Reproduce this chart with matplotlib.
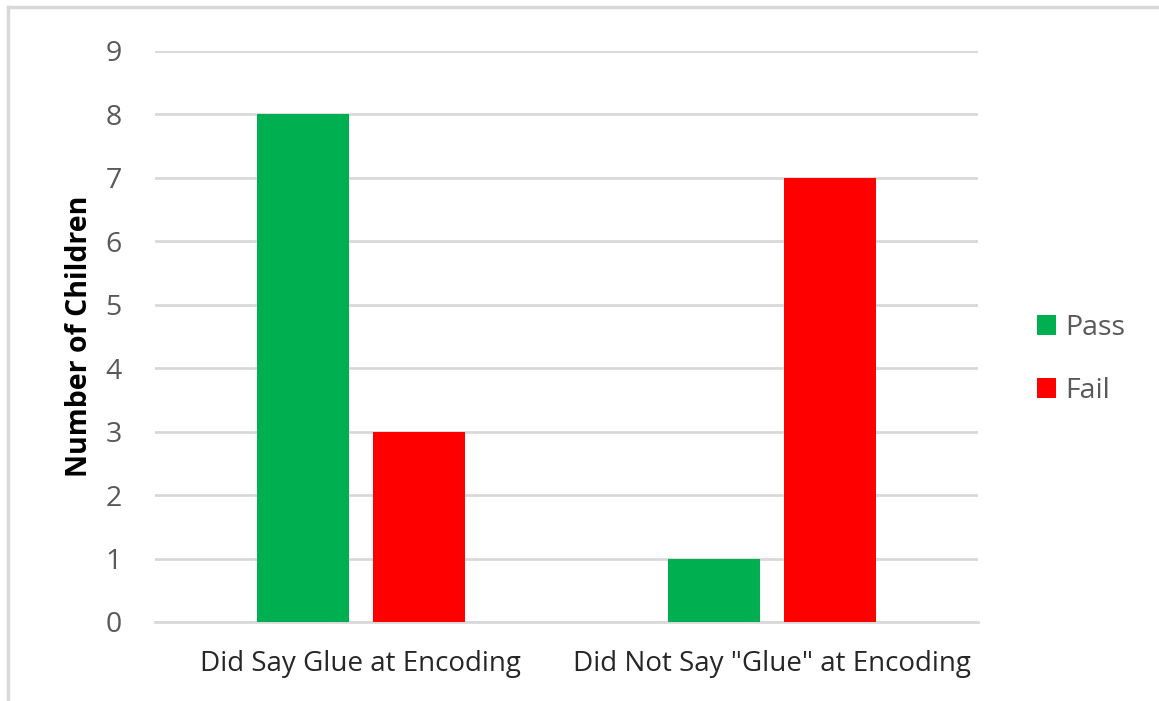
import matplotlib.pyplot as plt
import numpy as np
from matplotlib.lines import Line2D

categories = ["Did Say Glue at Encoding", 'Did Not Say "Glue" at Encoding']
series = ["Pass", "Fail"]
pass_counts = [8, 1]
fail_counts = [3, 7]
colors = {"Pass": "#00B050", "Fail": "#FF0000"}

plt.rcParams["font.family"] = ["Open Sans", "DejaVu Sans"]

fig = plt.figure(figsize=(11.59, 7.01), dpi=100)
ax = fig.add_axes([155 / 1159, 1 - 622 / 701, 823 / 1159, 571 / 701])

x = np.arange(len(categories))
width = 0.2236
offset = 0.1405
ax.bar(x - offset, pass_counts, width, color=colors["Pass"], label="Pass", zorder=3)
ax.bar(x + offset, fail_counts, width, color=colors["Fail"], label="Fail", zorder=3)

ax.set_xlim(-0.5, 1.5)
ax.set_ylim(0, 9)
ax.set_yticks(range(10))
ax.yaxis.grid(True, color="#d9d9d9", linewidth=2)
ax.set_axisbelow(True)
for s in ["top", "right", "left"]:
    ax.spines[s].set_visible(False)
ax.spines["bottom"].set_color("#d9d9d9")
ax.spines["bottom"].set_linewidth(2)
ax.tick_params(axis="both", length=0)
ax.tick_params(axis="y", labelsize=20.5, labelcolor="#595959", pad=24)
ax.set_xticks(x)
ax.set_xticklabels(categories, fontsize=20, color="#262626")
ax.tick_params(axis="x", pad=20)
ax.set_ylabel("Number of Children", fontsize=20.5, fontweight="bold", color="black", labelpad=8)

ax.legend(loc="center left", bbox_to_anchor=(1.04, 0.46), frameon=False,
          fontsize=20.5, labelcolor="#595959", handlelength=0.7, handleheight=0.7,
          labelspacing=1.25, handletextpad=0.3)

# outer chart border (left and top edges)
fig.add_artist(Line2D([8 / 1159, 8 / 1159], [0, 1 - 7 / 701], color="#d9d9d9", linewidth=2.5))
fig.add_artist(Line2D([8 / 1159, 1], [1 - 7 / 701, 1 - 7 / 701], color="#d9d9d9", linewidth=2.5))

fig.savefig("out.png", dpi=100)
